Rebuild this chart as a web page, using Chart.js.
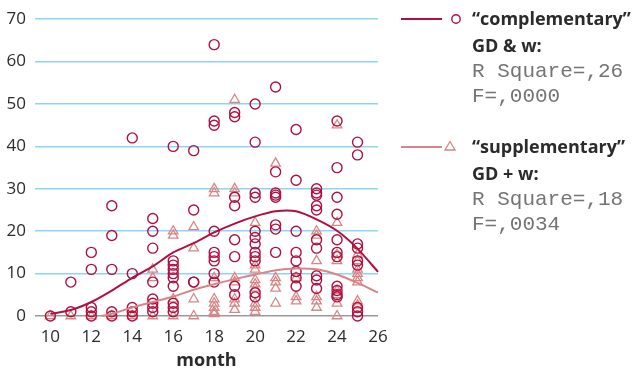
<!DOCTYPE html>
<html>
<head>
<meta charset="utf-8">
<script src="https://cdn.jsdelivr.net/npm/chart.js@4.4.1/dist/chart.umd.min.js"></script>
<style>
  html, body { margin: 0; padding: 0; background: #fff; }
  #wrap { position: relative; width: 638px; height: 373px; overflow: hidden; }
  #chart { position: absolute; left: 0; top: 0; }
  #legend { position: absolute; left: 0; top: 0; width: 638px; height: 373px; pointer-events: none; }
  .lt { position: absolute; left: 472px; white-space: nowrap; }
  .hd { font-family: "Open Sans", sans-serif; font-weight: 700; font-size: 18px; line-height: 24px; color: #2b2b2b; }
  .st { font-family: "Liberation Mono", "Courier New", monospace; font-size: 21px; line-height: 24px; color: #747474; }
</style>
</head>
<body>
<div id="wrap">
  <canvas id="chart" width="638" height="373"></canvas>
  <svg id="legend" width="638" height="373">
    <line x1="401" y1="19" x2="442" y2="19" stroke="#b0103f" stroke-width="2"/>
    <circle cx="456" cy="19" r="4.2" fill="none" stroke="#b0103f" stroke-width="1.4"/>
    <line x1="401" y1="147" x2="442" y2="147" stroke="#d98585" stroke-width="2"/>
    <polygon points="450,141.5 455,150 445,150" fill="none" stroke="#d98585" stroke-width="1.3"/>
  </svg>
  <div class="lt hd" style="top:6px">“complementary”</div>
  <div class="lt hd" style="top:33px">GD &amp; w:</div>
  <div class="lt st" style="top:60px">R Square=,26</div>
  <div class="lt st" style="top:85px">F=,0000</div>
  <div class="lt hd" style="top:134px">“supplementary”</div>
  <div class="lt hd" style="top:161px">GD + w:</div>
  <div class="lt st" style="top:188px">R Square=,18</div>
  <div class="lt st" style="top:213px">F=,0034</div>
</div>
<script>
// Observation months (x positions of the point columns)
const months = [10, 11, 12, 13, 14, 15, 16, 17, 18, 19, 20, 21, 22, 23, 24, 25];

// "complementary" GD & w: observed values, one list per month
const complementaryValues = [
  [0],
  [8, 1],
  [15, 11, 2, 1, 0],
  [26, 19, 11, 1, 0],
  [42, 10, 2, 1, 0],
  [23, 20, 16, 8, 4, 3, 2, 1],
  [40, 13, 12, 11, 10, 9, 7, 3, 2, 1],
  [39, 25, 8, 8],
  [64, 46, 45, 20, 15, 14, 13, 10, 8],
  [48, 47, 28, 26, 18, 14, 7, 5],
  [50, 41, 29, 28, 20, 18.5, 17, 15, 14, 13, 5.5, 4.5],
  [54, 34, 29, 28.5, 28, 21.5, 20.5, 15],
  [44, 32, 20, 15, 13, 10.5, 9, 7],
  [30, 29, 28.5, 26, 25, 18, 16, 9.5, 8.5, 6.5],
  [46, 35, 28, 24, 18, 15, 14, 7, 6, 5, 4.5],
  [41, 38, 17, 16, 13, 12, 2, 1, 0]
];

// "supplementary" GD + w: observed values, one list per month
const supplementaryValues = [
  [0],
  [0],
  [0],
  [0],
  [0],
  [11, 9, 0],
  [20, 19, 4, 0],
  [21, 16, 4, 0],
  [30, 29, 9, 4, 3, 2, 1, 0.5],
  [51, 30, 29, 9, 8, 4, 3, 1.5],
  [22, 12, 11, 8.5, 7.5, 6.5, 3, 2, 1],
  [36, 9, 8, 6.5, 3],
  [9, 4.5, 3.5],
  [20, 19, 13, 4.5, 3.5, 2],
  [45, 22, 14.5, 13, 6, 5, 3, 0],
  [14.5, 13, 11, 10, 9, 8, 3.5, 2.5]
];

// Fitted curves
const complementaryFitX = [10, 11, 12, 13, 14, 15, 16, 17, 18, 19, 20, 21, 22, 23, 24, 25, 26];
const complementaryFitY = [0.5, 1.4, 3.3, 6.0, 9.0, 11.7, 15.0, 17.2, 19.7, 21.8, 23.5, 24.7, 24.7, 22.8, 20.1, 15.9, 10.4];
const supplementaryFitX = [12.5, 13, 14, 15, 16, 17, 18, 19, 20, 21, 22, 23, 24, 25, 26];
const supplementaryFitY = [0, 0.5, 2.0, 3.3, 4.6, 6.2, 7.5, 8.7, 9.8, 10.8, 11.2, 11.0, 9.8, 7.8, 5.5];

const xTicks = [10, 12, 14, 16, 18, 20, 22, 24, 26];
const yTicks = [0, 10, 20, 30, 40, 50, 60, 70];

const COMP = '#b0103f';
const SUPP = '#d98585';

function points(values) {
  const out = [];
  months.forEach((m, i) => values[i].forEach(v => out.push({ x: m, y: v })));
  return out;
}
function curve(xs, ys) { return xs.map((x, i) => ({ x, y: ys[i] })); }

new Chart(document.getElementById('chart'), {
  type: 'scatter',
  data: {
    datasets: [
      {
        type: 'line', data: curve(complementaryFitX, complementaryFitY),
        borderColor: COMP, borderWidth: 2, pointRadius: 0, tension: 0.25, fill: false, order: 1
      },
      {
        type: 'line', data: curve(supplementaryFitX, supplementaryFitY),
        borderColor: SUPP, borderWidth: 2, pointRadius: 0, tension: 0.25, fill: false, order: 2
      },
      {
        data: points(supplementaryValues), pointStyle: 'triangle', pointRadius: 5.5,
        borderColor: SUPP, borderWidth: 1.3, backgroundColor: 'rgba(0,0,0,0)', order: 4
      },
      {
        data: points(complementaryValues), pointStyle: 'circle', pointRadius: 5,
        borderColor: COMP, borderWidth: 1.4, backgroundColor: 'rgba(0,0,0,0)', order: 3
      }
    ]
  },
  options: {
    responsive: false,
    animation: false,
    events: [],
    clip: false,
    layout: { padding: { top: 11, right: 260, left: 0, bottom: 0 } },
    plugins: { legend: { display: false }, tooltip: { enabled: false } },
    scales: {
      x: {
        type: 'linear', min: 9.25, max: 26,
        afterBuildTicks: s => { s.ticks = xTicks.map(v => ({ value: v })); },
        afterFit: s => { s.height = 57; },
        grid: { display: false, drawTicks: false },
        border: { display: false },
        ticks: { padding: 11, color: '#2b2b2b', font: { family: 'Open Sans', size: 17 }, maxRotation: 0 },
        title: { display: true, text: 'month', color: '#2b2b2b', font: { family: 'Open Sans', size: 18, weight: 'bold' }, padding: { top: 0, bottom: 1 } }
      },
      y: {
        type: 'linear', min: 0, max: 70,
        afterBuildTicks: s => { s.ticks = yTicks.map(v => ({ value: v })); },
        afterFit: s => { s.width = 35; },
        grid: {
          drawTicks: false, lineWidth: 1.6,
          color: c => (c.tick && c.tick.value === 0) ? '#9a9a9a' : '#8dd5f2'
        },
        border: { display: false },
        ticks: { padding: 9, color: '#2b2b2b', font: { family: 'Open Sans', size: 17 } }
      }
    }
  }
});
</script>
</body>
</html>
